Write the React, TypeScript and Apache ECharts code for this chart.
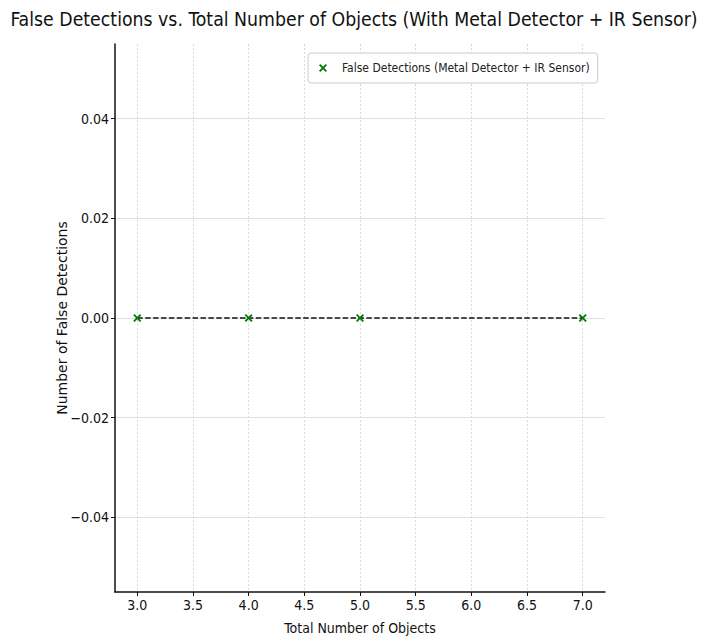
import React, { useEffect, useRef } from "react";
import * as echarts from "echarts";

const xValues = [3, 4, 5, 7];
const falseDetections = [0, 0, 0, 0];
const xTicks = [3.0, 3.5, 4.0, 4.5, 5.0, 5.5, 6.0, 6.5, 7.0];
const yTicks = [-0.04, -0.02, 0.0, 0.02, 0.04];
const seriesName = "False Detections (Metal Detector + IR Sensor)";
const titleText = "False Detections vs. Total Number of Objects (With Metal Detector + IR Sensor)";

const COND = "'DejaVu Sans Condensed', 'Liberation Sans Narrow', 'DejaVu Sans', sans-serif";
const XMARK = "path://M0,1.6L1.6,0L5,3.4L8.4,0L10,1.6L6.6,5L10,8.4L8.4,10L5,6.6L1.6,10L0,8.4L3.4,5Z";

const fmtY = (v: number) => (v < 0 ? "\u2212" : "") + Math.abs(v).toFixed(2);

export default function App() {
  const ref = useRef<HTMLDivElement>(null);
  useEffect(() => {
    if (!ref.current) return;
    const chart = echarts.init(ref.current, null, { renderer: "svg" });
    chart.setOption({
      animation: false,
      backgroundColor: "#ffffff",
      title: {
        text: titleText,
        left: "center",
        top: 5,
        textStyle: { fontFamily: COND, fontSize: 19.3, fontWeight: "normal", color: "#111" },
      },
      legend: {
        left: 308,
        top: 53,
        icon: XMARK,
        itemWidth: 8,
        itemHeight: 8,
        padding: [9, 8, 9, 11],
        borderColor: "#cccccc",
        borderWidth: 1,
        borderRadius: 3,
        backgroundColor: "#ffffff",
        textStyle: { fontFamily: COND, fontSize: 12, color: "#222", padding: [0, 0, 0, 10] },
        data: [{ name: seriesName, icon: XMARK, itemStyle: { color: "#007a00" } }],
      },
      grid: { left: 115, right: 103, top: 44, bottom: 52, containLabel: false },
      xAxis: {
        type: "value",
        min: 2.8,
        max: 7.2,
        name: "Total Number of Objects",
        nameLocation: "middle",
        nameGap: 29,
        nameMoveOverlap: false,
        nameTextStyle: { fontFamily: COND, fontSize: 14, color: "#111" },
        axisLine: { show: true, onZero: false, lineStyle: { color: "#111", width: 1.5 } },
        axisTick: { show: true, customValues: xTicks, length: 4, lineStyle: { color: "#111" } },
        axisLabel: {
          customValues: xTicks,
          formatter: (v: number) => v.toFixed(1),
          fontFamily: COND,
          fontSize: 14,
          color: "#111",
          margin: 6,
        },
        splitLine: { show: true, lineStyle: { color: "#d8d8d8", type: [2, 2], width: 1 } },
      },
      yAxis: {
        type: "value",
        min: -0.055,
        max: 0.055,
        name: "Number of False Detections",
        nameLocation: "middle",
        nameGap: 46,
        nameMoveOverlap: false,
        nameTextStyle: { fontFamily: "'DejaVu Sans', sans-serif", fontSize: 14, color: "#111" },
        axisLine: { show: true, onZero: false, lineStyle: { color: "#111", width: 1.5 } },
        axisTick: { show: true, customValues: yTicks, length: 4, lineStyle: { color: "#111" } },
        axisLabel: {
          customValues: yTicks,
          formatter: (v: number) => fmtY(v),
          fontFamily: COND,
          fontSize: 14,
          color: "#111",
          margin: 6,
        },
        splitLine: { show: true, lineStyle: { color: "#e0e0e0", type: "solid", width: 1 } },
      },
      series: [
        {
          name: seriesName,
          type: "line",
          data: xValues.map((x, i) => [x, falseDetections[i]]),
          symbol: XMARK,
          symbolSize: 8,
          itemStyle: { color: "#007a00" },
          lineStyle: { color: "#111", width: 1.5, type: [5.5, 2.4] },
        },
      ],
    });
    return () => chart.dispose();
  }, []);
  return (
    <div
      ref={ref}
      style={{ position: "absolute", left: 0, top: 0, width: 708, height: 644 }}
    />
  );
}
